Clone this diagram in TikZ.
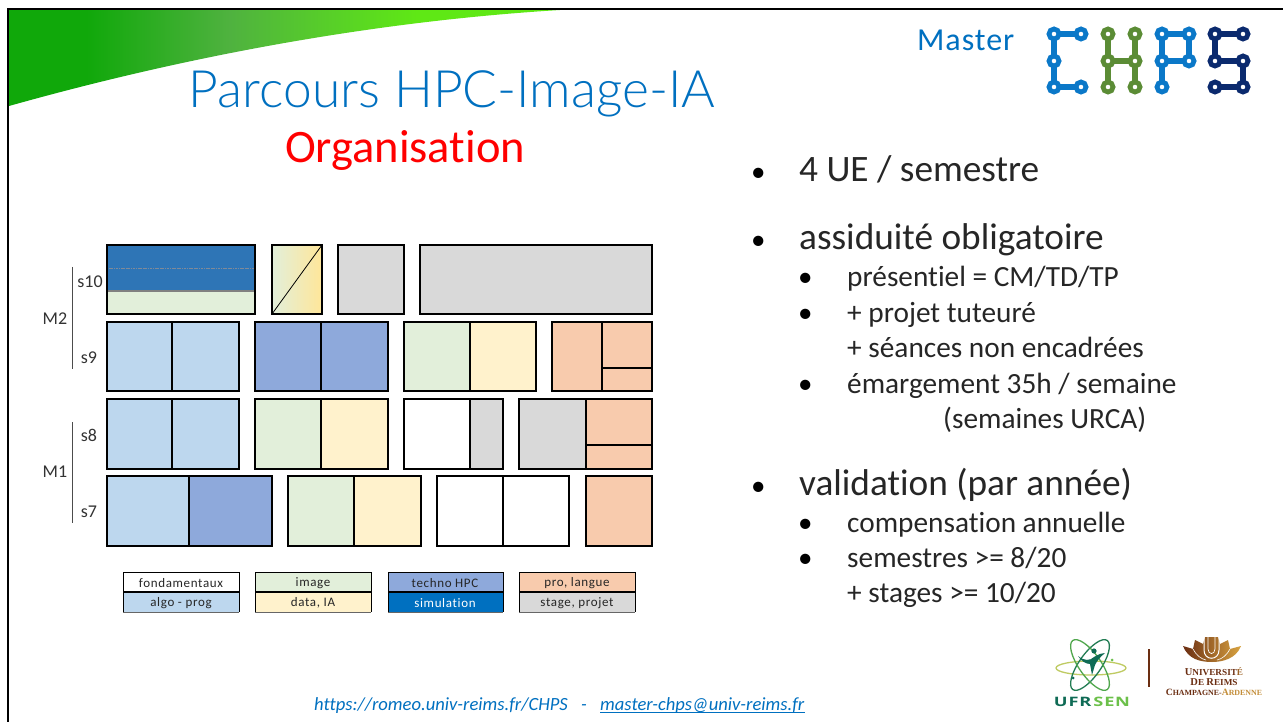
\documentclass[tikz,border=0pt]{standalone}
\usepackage{fontspec}
\usetikzlibrary{calc}
\setmainfont[Ligatures=NoCommon]{Carlito}
\newfontfamily\titlefont[UprightFont={* Light}]{Lato}
\newfontfamily\logosans{Open Sans}
\newfontfamily\logoserif{Liberation Serif}
\definecolor{algo}{HTML}{BDD7EE}
\definecolor{techno}{HTML}{8EA9DB}
\definecolor{simu}{HTML}{0070C0}
\definecolor{sdeep}{HTML}{2E75B6}
\definecolor{imagec}{HTML}{E2EFDA}
\definecolor{datac}{HTML}{FFF2CC}
\definecolor{proc}{HTML}{F8CBAD}
\definecolor{stagec}{HTML}{D9D9D9}
\definecolor{titleblue}{HTML}{0070C0}
\definecolor{g1}{HTML}{10A80A}
\definecolor{g2}{HTML}{4FB23F}
\definecolor{g3}{HTML}{5FE815}
\definecolor{chpsblue}{HTML}{0B78C8}
\definecolor{chpsgreen}{HTML}{5B8C35}
\definecolor{chpsnavy}{HTML}{0B2A6E}
\definecolor{brownu}{HTML}{6B2E12}
\definecolor{goldu}{HTML}{D9A441}
\definecolor{ufrdark}{HTML}{0F6B55}
\definecolor{ufrlight}{HTML}{6CC04A}
\definecolor{ufrolive}{HTML}{BFCB62}
\definecolor{gradend}{HTML}{FFE699}
\definecolor{midline}{HTML}{7F8A99}
\pgfdeclarehorizontalshading{swoosh}{100bp}{color(0bp)=(g1); color(25bp)=(g1); color(32bp)=(g1); color(45bp)=(g2); color(62bp)=(g3); color(75bp)=(g3); color(100bp)=(g3)}
\newcommand{\ubox}[5]{\fill[#5] (#1,#2) rectangle (#3,#4);}
\newcommand{\uframe}[4]{\draw[boxline] (#1,#2) rectangle (#3,#4);}
\newcommand{\vdiv}[3]{\draw[divline] (#1,#2) -- (#1,#3);}
\newcommand{\chpslink}[3]{\draw[line width=5.4pt,#1] #2 -- #3;}
\newcommand{\chpsdot}[2]{\draw[line width=4.8pt,#1,fill=white] #2 circle (5);}
\tikzset{
  boxline/.style={line width=1.6pt,black},
  divline/.style={line width=1.1pt,black},
  big/.style={anchor=base west,inner sep=0,text=black!85,font=\fontsize{37.3}{37.3}\selectfont},
  small/.style={anchor=base west,inner sep=0,text=black!85,font=\fontsize{29.3}{29.3}\selectfont},
  bul/.style={anchor=base west,inner sep=0,text=black,font=\fontsize{29}{29}\selectfont},
  sem/.style={anchor=center,inner sep=0,text=black!80,font=\fontsize{18}{18}\selectfont},
  legtext/.style={anchor=center,inner sep=0,text=black!85,font=\fontsize{13}{13}\selectfont\addfontfeatures{LetterSpace=5}},
  foot/.style={anchor=base west,inner sep=0,text=titleblue,font=\fontsize{18.6}{18.6}\selectfont\itshape},
}
\begin{document}
\begin{tikzpicture}[x=1pt,y=-1pt]
\useasboundingbox (0,0) rectangle (1283,722);
\fill[white] (0,0) rectangle (1283,722);
% swoosh
\shade[shading=swoosh] (9,10) -- (9,106) .. controls (130,72) and (330,24) .. (560,10) -- cycle;
% frame
\draw[line width=2pt,black] (8,722) -- (8,9) -- (1283,9);
% titles
\node[anchor=base,inner sep=0,text=titleblue,font=\titlefont\fontsize{51.5}{51.5}\selectfont] (title) at (452,108) {Parcours HPC-Image-IA};
\node[anchor=base,inner sep=0,text=red,font=\fontsize{46.5}{46.5}\selectfont] (orga) at (405,163) {Organisation};
\node[anchor=base west,inner sep=0,text=titleblue,font=\fontsize{32}{32}\selectfont\addfontfeatures{LetterSpace=3}] (master) at (917,51) {Master};
% CHPS logo
\chpslink{chpsblue}{(1054,34)}{(1081,34)}
\chpslink{chpsblue}{(1054,34)}{(1054,87)}
\chpslink{chpsblue}{(1054,87)}{(1081,87)}
\chpslink{chpsgreen}{(1108,34)}{(1108,87)}
\chpslink{chpsgreen}{(1135,34)}{(1135,87)}
\chpslink{chpsgreen}{(1108,61)}{(1135,61)}
\chpslink{chpsblue}{(1162,34)}{(1189,34)}
\chpslink{chpsblue}{(1162,34)}{(1162,87)}
\chpslink{chpsblue}{(1189,34)}{(1189,61)}
\chpslink{chpsblue}{(1162,61)}{(1189,61)}
\chpslink{chpsnavy}{(1215,34)}{(1243,34)}
\chpslink{chpsnavy}{(1215,34)}{(1215,61)}
\chpslink{chpsnavy}{(1215,61)}{(1243,61)}
\chpslink{chpsnavy}{(1243,61)}{(1243,87)}
\chpslink{chpsnavy}{(1215,87)}{(1243,87)}
\foreach \p in {(1054,34),(1081,34),(1054,61),(1054,87),(1081,87),(1162,34),(1189,34),(1162,61),(1189,61),(1162,87)} {\chpsdot{chpsblue}{\p}}
\foreach \p in {(1108,34),(1135,34),(1108,61),(1135,61),(1108,87),(1135,87)} {\chpsdot{chpsgreen}{\p}}
\foreach \p in {(1215,34),(1243,34),(1215,61),(1243,61),(1215,87),(1243,87)} {\chpsdot{chpsnavy}{\p}}
% s10
\ubox{107}{245}{255}{291}{sdeep}
\ubox{107}{291}{255}{314}{imagec}
\draw[line width=.8pt,midline,dash pattern=on 1.2pt off .5pt] (107,268) -- (255,268);
\draw[line width=1.2pt,black!50] (107,291) -- (255,291);
\uframe{107}{245}{255}{314}
\shade[shading angle=-55,left color=imagec,right color=gradend] (272,245) rectangle (322,314);
\draw[line width=.8pt,black] (272,314) -- (322,245);
\uframe{272}{245}{322}{314}
\ubox{338}{245}{404}{314}{stagec}\uframe{338}{245}{404}{314}
\ubox{420}{245}{652}{314}{stagec}\uframe{420}{245}{652}{314}
% s9
\ubox{107}{322}{239}{391}{algo}\vdiv{172}{322}{391}\uframe{107}{322}{239}{391}
\ubox{255}{322}{388}{391}{techno}\vdiv{321}{322}{391}\uframe{255}{322}{388}{391}
\ubox{404}{322}{470}{391}{imagec}\ubox{470}{322}{536}{391}{datac}\vdiv{470}{322}{391}\uframe{404}{322}{536}{391}
\ubox{552}{322}{652}{391}{proc}\vdiv{602}{322}{391}\draw[divline] (602,368) -- (652,368);\uframe{552}{322}{652}{391}
% s8
\ubox{107}{399}{239}{469}{algo}\vdiv{172}{399}{469}\uframe{107}{399}{239}{469}
\ubox{255}{399}{321}{469}{imagec}\ubox{321}{399}{388}{469}{datac}\vdiv{321}{399}{469}\uframe{255}{399}{388}{469}
\ubox{470}{399}{503}{469}{stagec}\vdiv{470}{399}{469}\uframe{404}{399}{503}{469}
\ubox{519}{399}{586}{469}{stagec}\ubox{586}{399}{652}{469}{proc}\vdiv{586}{399}{469}\draw[divline] (586,445) -- (652,445);\uframe{519}{399}{652}{469}
% s7
\ubox{107}{476}{189}{546}{algo}\ubox{189}{476}{272}{546}{techno}\vdiv{189}{476}{546}\uframe{107}{476}{272}{546}
\ubox{288}{476}{354}{546}{imagec}\ubox{354}{476}{421}{546}{datac}\vdiv{354}{476}{546}\uframe{288}{476}{421}{546}
\vdiv{503}{476}{546}\uframe{437}{476}{569}{546}
\ubox{586}{476}{652}{546}{proc}\uframe{586}{476}{652}{546}
% semester labels
\node[sem] (s10) at (90,282) {s10};
\node[sem] (s9) at (89,358) {s9};
\node[sem] (s8) at (89,435) {s8};
\node[sem] (s7) at (89,512) {s7};
\node[sem] (m2) at (55,319) {M2};
\node[sem] (m1) at (55,472) {M1};
\coordinate (m2top) at (72,267);\coordinate (m2bot) at (72,369);
\coordinate (m1top) at (72,422);\coordinate (m1bot) at (72,523);
\draw[line width=.8pt,black!70] (m2top) -- (m2bot);
\draw[line width=.8pt,black!70] (m1top) -- (m1bot);
% legend
\ubox{123}{592}{239}{612}{algo}
\ubox{255}{572}{371}{592}{imagec}\ubox{255}{592}{371}{612}{datac}
\ubox{388}{572}{503}{592}{techno}\ubox{388}{592}{503}{612}{simu}
\ubox{519}{572}{635}{592}{proc}\ubox{519}{592}{635}{612}{stagec}
\foreach \a/\b in {123/239,255/371,388/503,519/635}{
  \draw[line width=.9pt,black] (\a,612) -- (\a,572) -- (\b,572) -- (\b,612);
  \draw[line width=1.1pt,black] (\a,592) -- (\b,592);
  \draw[line width=.5pt,black!60] (\a,612) -- (\b,612);
}
\node[legtext] (l1) at (181,583) {fondamentaux};
\node[legtext] (l2) at (181,603) {algo - prog};
\node[legtext] (l3) at (313,583) {image};
\node[legtext] (l4) at (313,603) {data, IA};
\node[legtext] (l5) at (445,583) {techno HPC};
\node[legtext,text=white] (l6) at (445,603) {simulation};
\node[legtext] (l7) at (577,583) {pro, langue};
\node[legtext] (l8) at (577,603) {stage, projet};
% bullets
\node[bul] (b1) at (751,182) {•};
\node[big] (t1) at (799,182) {4 UE / semestre};
\node[bul] (b2) at (751,250) {•};
\node[big] (t2) at (799,250) {assiduité obligatoire};
\node[bul] (b3) at (798,287) {•};
\node[small] (t3) at (847,287) {présentiel = CM/TD/TP};
\node[bul] (b4) at (798,322) {•};
\node[small] (t4) at (847,322) {+ projet tuteuré};
\node[small] (t5) at (847,357) {+ séances non encadrées};
\node[bul] (b5) at (798,393) {•};
\node[small] (t6) at (847,393) {émargement 35h / semaine};
\node[small] (t7) at (943,428) {(semaines URCA)};
\node[bul] (b6) at (751,495) {•};
\node[big] (t8) at (799,495) {validation (par année)};
\node[bul] (b7) at (798,532) {•};
\node[small] (t9) at (847,532) {compensation annuelle};
\node[bul] (b8) at (798,567) {•};
\node[small] (t10) at (847,567) {semestres >= 8/20};
\node[small] (t11) at (847,602) {+ stages >= 10/20};
% footer
\node[foot] (url) at (314,710) {https://romeo.univ-reims.fr/CHPS};
\node[foot] (dash) at (581,710) {-};
\node[foot] (mail) at (600,710) {master-chps@univ-reims.fr};
\draw[titleblue,line width=.8pt] ($(mail.base west)+(0,2)$) -- ($(mail.base east)+(0,2)$);
% UFR SEN logo
\draw[ufrolive,line width=1.3pt] (1091,668) ellipse [x radius=35,y radius=7];
\draw[ufrdark!80!ufrlight,line width=1.3pt,rotate around={55:(1090,665)}] (1090,665) ellipse [x radius=30,y radius=11];
\draw[ufrlight!70!ufrdark,line width=1.3pt,rotate around={-55:(1090,665)}] (1090,665) ellipse [x radius=30,y radius=11];
\fill[ufrdark] (1094,651) circle (2.6);
\fill[ufrdark] (1078,656) .. controls (1084,661) and (1090,661) .. (1094,657) .. controls (1099,654) and (1102,653) .. (1105,653) .. controls (1100,657) and (1097,661) .. (1095,665) -- (1092,675) -- (1090,664) .. controls (1086,664) and (1081,661) .. (1078,656) -- cycle;
\fill[ufrlight] (1112,660) circle (1.5);
\fill[ufrdark] (1073,678) circle (1.5);
\node[anchor=base,inner sep=0,font=\logosans\bfseries\fontsize{13}{13}\selectfont\addfontfeatures{FakeStretch=1.4,LetterSpace=6}] (ufr) at (1092,706) {\textcolor{ufrdark}{UFR}\,\textcolor{ufrlight}{SEN}};
% separator
\coordinate (sepa) at (1149,649);\coordinate (sepb) at (1149,687);
\draw[brownu,line width=2pt] (sepa) -- (sepb);
% URCA logo
\shade[left color=brownu,right color=goldu] (1183,646) -- (1193,649) -- (1195,640) -- (1203,644) -- (1205,637) -- (1218,637) -- (1220,644) -- (1228,640) -- (1230,649) -- (1241,646) .. controls (1236,659) and (1222,662) .. (1212,662) .. controls (1200,662) and (1188,659) .. (1183,646) -- cycle;
\draw[white,line width=1pt] (1204,637) -- (1204,650) .. controls (1204,661) and (1219,661) .. (1219,650) -- (1219,637);
\draw[white,line width=.7pt] (1208,637) -- (1208,649) .. controls (1208,655) and (1215,655) .. (1215,649) -- (1215,637);
\draw[white,line width=.6pt] (1193,649) .. controls (1196,655) and (1201,659) .. (1206,660);
\draw[white,line width=.6pt] (1230,649) .. controls (1227,655) and (1222,659) .. (1217,660);
\node[anchor=base,inner sep=0,text=brownu,font=\logoserif\bfseries] (ua) at (1214,675.5) {\fontsize{10.5}{9}\selectfont U\fontsize{9.2}{9}\selectfont NIVERSIT\textcolor{brownu!55!goldu}{É}};
\node[anchor=base,inner sep=0,text=brownu,font=\logoserif\bfseries] (ub) at (1214,685) {\fontsize{10.5}{9}\selectfont D\fontsize{9.2}{9}\selectfont E \fontsize{10.5}{9}\selectfont R\fontsize{9.2}{9}\selectfont EIMS};
\node[anchor=base,inner sep=0,text=brownu,font=\logoserif\bfseries] (uc) at (1214,695) {\fontsize{9.6}{9}\selectfont C\fontsize{7.9}{9}\selectfont HAMPAGNE-\textcolor{goldu!80!brownu}{\fontsize{9.6}{9}\selectfont A\fontsize{7.9}{9}\selectfont RDENNE}};
\end{tikzpicture}
\end{document}
